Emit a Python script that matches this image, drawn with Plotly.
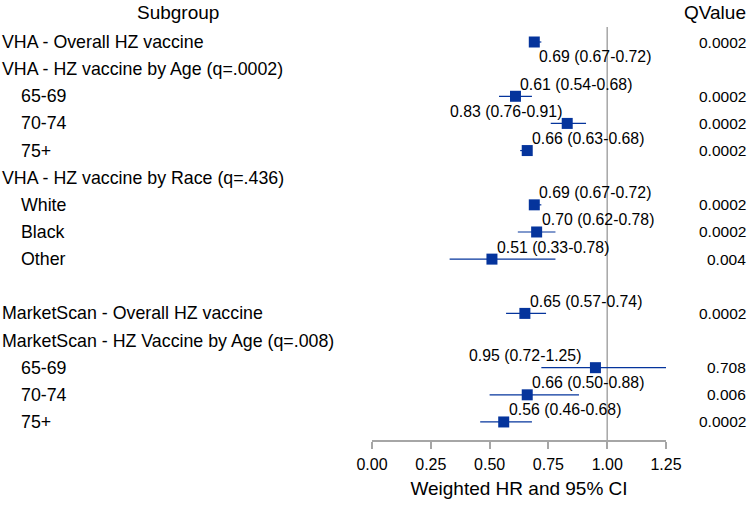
import plotly.graph_objects as go

# ---- data ----
subgroups = [
    "VHA - Overall HZ vaccine",
    "VHA - HZ vaccine by Age (q=.0002)",
    "65-69",
    "70-74",
    "75+",
    "VHA - HZ vaccine by Race (q=.436)",
    "White",
    "Black",
    "Other",
    "",
    "MarketScan - Overall HZ vaccine",
    "MarketScan - HZ Vaccine by Age (q=.008)",
    "65-69",
    "70-74",
    "75+",
]
indent = [0, 0, 1, 1, 1, 0, 1, 1, 1, 0, 0, 0, 1, 1, 1]
hr = [0.69, None, 0.61, 0.83, 0.66, None, 0.69, 0.70, 0.51, None, 0.65, None, 0.95, 0.66, 0.56]
lo = [0.67, None, 0.54, 0.76, 0.63, None, 0.67, 0.62, 0.33, None, 0.57, None, 0.72, 0.50, 0.46]
hi = [0.72, None, 0.68, 0.91, 0.68, None, 0.72, 0.78, 0.78, None, 0.74, None, 1.25, 0.88, 0.68]
qvalue = ["0.0002", "", "0.0002", "0.0002", "0.0002", "", "0.0002", "0.0002", "0.004", "",
          "0.0002", "", "0.708", "0.006", "0.0002"]
xticks = [0.00, 0.25, 0.50, 0.75, 1.00, 1.25]

# label placement (style): 'b' below/right-of-marker, 'a' above/right, 'l' above/left
label_place = ["b", None, "a", "l", "a", None, "a", "a", "a", None, "a", None, "l", "a", "a"]
label_dx = [3, 0, 3, -3, 3, 0, 3, 3, 3, 0, 3, 0, -12, 3, 3]
label_dy = {"b": -14, "a": 12, "l": 12}

BLUE = "#05349C"
GRAY = "#A6A6A6"
FONT = "Liberation Sans, Arial, sans-serif"
W, H = 750, 508
PX0, PX1 = 372, 666       # plot area x in px
PY0, PY1 = 27, 440        # plot area y in px
ROW0, ROWSTEP = 42, 27.14

n = len(subgroups)
rows = list(range(n))
ytop = -(ROW0 - PY0) / ROWSTEP
ybot = (n - 1) + (PY1 - (ROW0 + ROWSTEP * (n - 1))) / ROWSTEP

xs, ys, ep, em = [], [], [], []
for i in rows:
    if hr[i] is not None:
        xs.append(hr[i]); ys.append(i)
        ep.append(hi[i] - hr[i]); em.append(hr[i] - lo[i])

fig = go.Figure()
fig.add_trace(go.Scatter(
    x=xs, y=ys, mode="markers",
    marker=dict(symbol="square", size=11, color=BLUE, line=dict(width=0)),
    error_x=dict(type="data", symmetric=False, array=ep, arrayminus=em,
                 color=BLUE, thickness=1.2, width=0),
    showlegend=False, hoverinfo="skip",
))

# reference line at 1
fig.add_shape(type="line", x0=1, x1=1, y0=0, y1=1, xref="x", yref="paper",
              line=dict(color=GRAY, width=1.5), layer="below")

ann = []
hdr_y = 1 + (PY0 - 12) / (PY1 - PY0)
ann.append(dict(text="Subgroup", x=178 / W, y=hdr_y, xref="paper", yref="paper",
                xanchor="center", yanchor="middle", showarrow=False,
                font=dict(size=19, color="#000", family=FONT)))
ann.append(dict(text="QValue", x=748 / W, y=hdr_y, xref="paper", yref="paper",
                xanchor="right", yanchor="middle", showarrow=False,
                font=dict(size=19, color="#000", family=FONT)))
for i in rows:
    if subgroups[i]:
        ann.append(dict(text=subgroups[i], x=(0 if indent[i] == 0 else 19) / W, y=i,
                        xref="paper", yref="y", xanchor="left", yanchor="middle", showarrow=False,
                        font=dict(size=17.8, color="#000", family=FONT)))
    if qvalue[i]:
        ann.append(dict(text=qvalue[i], x=748 / W, y=i, xref="paper", yref="y",
                        xanchor="right", yanchor="middle", showarrow=False,
                        font=dict(size=15.5, color="#000", family=FONT)))
    if hr[i] is not None:
        p = label_place[i]
        ann.append(dict(text=f"{hr[i]:.2f} ({lo[i]:.2f}-{hi[i]:.2f})", x=hr[i], y=i,
                        xref="x", yref="y", xanchor="right" if p == "l" else "left",
                        yanchor="middle", xshift=label_dx[i], yshift=label_dy[p], showarrow=False,
                        font=dict(size=15.8, color="#000", family=FONT)))

fig.update_layout(
    width=W, height=H, autosize=False,
    margin=dict(l=0, r=0, t=PY0, b=H - PY1, pad=0, autoexpand=False),
    paper_bgcolor="white", plot_bgcolor="white",
    font=dict(family=FONT, color="#000"),
    annotations=ann,
    xaxis=dict(domain=[PX0 / W, PX1 / W], range=[0, 1.25], tickvals=xticks,
               ticktext=[f"{v:.2f}" for v in xticks],
               showline=True, linecolor=GRAY, linewidth=1.5,
               ticks="outside", ticklen=7, tickcolor=GRAY, tickwidth=1.5,
               showgrid=False, zeroline=False, ticklabelstandoff=2, automargin=False,
               tickfont=dict(size=16, color="#000", family=FONT),
               title=dict(text="Weighted HR and 95% CI", standoff=10,
                          font=dict(size=19, color="#000", family=FONT))),
    yaxis=dict(range=[ybot, ytop], visible=False, showgrid=False, zeroline=False, automargin=False),
)

fig.write_html("out.html", config={"displayModeBar": False},
               post_script="document.body.style.margin='0px';")
